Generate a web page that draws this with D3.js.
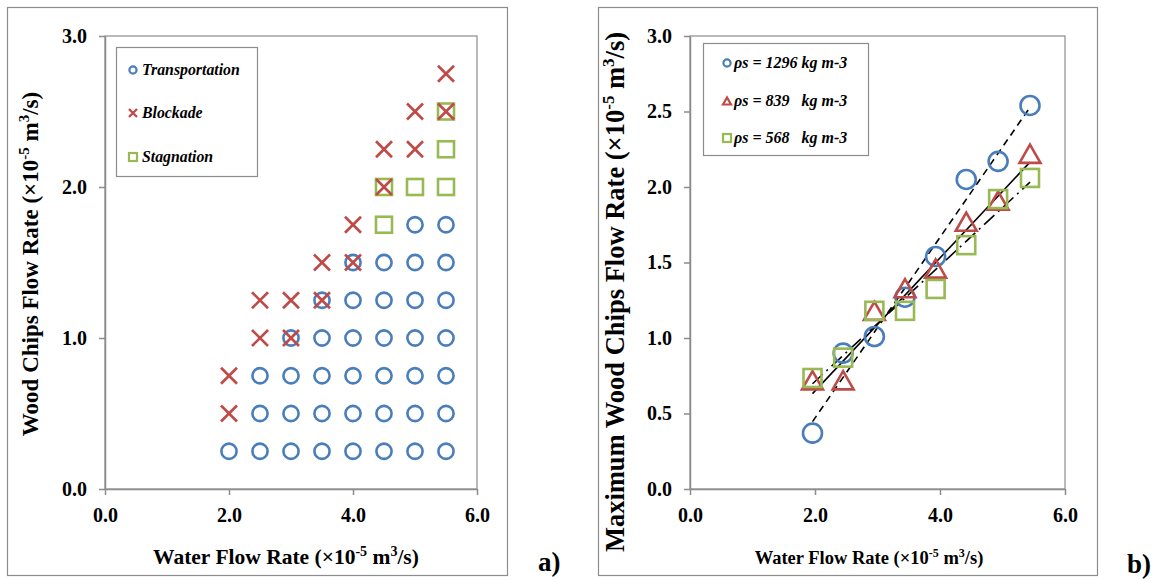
<!DOCTYPE html>
<html><head><meta charset="utf-8">
<script src="https://cdn.jsdelivr.net/npm/d3@7"></script>
<style>
body{margin:0;background:#fff;}
svg text{font-family:"Liberation Serif","Times New Roman",serif;font-weight:bold;fill:#000;}
</style></head>
<body><svg id="c" width="1161" height="580"></svg>
<script>
// ---- Panel a) data: [water flow, wood chips flow]
const transportation = [
 [2,0.25],
 [2.5,0.25],[2.5,0.5],[2.5,0.75],
 [3,0.25],[3,0.5],[3,0.75],[3,1.0],
 [3.5,0.25],[3.5,0.5],[3.5,0.75],[3.5,1.0],[3.5,1.25],
 [4,0.25],[4,0.5],[4,0.75],[4,1.0],[4,1.25],[4,1.5],
 [4.5,0.25],[4.5,0.5],[4.5,0.75],[4.5,1.0],[4.5,1.25],[4.5,1.5],
 [5,0.25],[5,0.5],[5,0.75],[5,1.0],[5,1.25],[5,1.5],[5,1.75],
 [5.5,0.25],[5.5,0.5],[5.5,0.75],[5.5,1.0],[5.5,1.25],[5.5,1.5],[5.5,1.75]
];
const blockade = [
 [2,0.5],[2,0.75],[2.5,1.0],[2.5,1.25],[3,1.0],[3,1.25],[3.5,1.25],[3.5,1.5],
 [4,1.5],[4,1.75],[4.5,2.0],[4.5,2.25],[5,2.25],[5,2.5],[5.5,2.5],[5.5,2.75]
];
const stagnation = [[4.5,1.75],[4.5,2.0],[5,2.0],[5.5,2.0],[5.5,2.25],[5.5,2.5]];
const legendA = ["Transportation","Blockade","Stagnation"];

// ---- Panel b) data
const waterRate = [1.96, 2.45, 2.95, 3.44, 3.93, 4.42, 4.93, 5.44];
const rho1296 = [0.37, 0.90, 1.01, 1.27, 1.54, 2.05, 2.17, 2.54];
const rho839  = [0.70, 0.70, 1.16, 1.31, 1.44, 1.75, 1.89, 2.20];
const rho568  = [0.735, 0.87, 1.18, 1.18, 1.325, 1.615, 1.92, 2.06];
const legendB = ["ρs = 1296 kg m-3","ρs = 839   kg m-3","ρs = 568   kg m-3"];

const xTicks = [0,2,4,6];
const yTicksA = [0,1,2,3];
const yTicksB = [0,0.5,1,1.5,2,2.5,3];

const BLUE="#4A7EBB", RED="#BE4B48", GREEN="#98B954", GRAY="#8c8c8c";
const svg = d3.select("#c");

function frame(x0,y0,x1,y1){
  svg.append("rect").attr("x",x0+0.5).attr("y",y0+0.5).attr("width",x1-x0).attr("height",y1-y0)
    .attr("fill","none").attr("stroke",GRAY).attr("stroke-width",1.2);
}
function titleText(g, main, attrs, fs){
  const t = g.append("text").attr("font-size",fs);
  Object.entries(attrs).forEach(([k,v])=>t.attr(k,v));
  const sh = Math.round(fs*0.38), ss = Math.round(fs*0.65);
  t.append("tspan").text(main+" (×10");
  t.append("tspan").attr("dy",-sh).attr("font-size",ss).text("-5");
  t.append("tspan").attr("dy",sh).text(" m");
  t.append("tspan").attr("dy",-sh).attr("font-size",ss).text("3");
  t.append("tspan").attr("dy",sh).text("/s)");
  return t;
}
function axes(x,y,yt){
  const [l,r]=x.range(), [b,t]=y.range();
  svg.append("rect").attr("x",l).attr("y",t).attr("width",r-l).attr("height",b-t)
    .attr("fill","none").attr("stroke",GRAY).attr("stroke-width",1.2);
  const gx = svg.append("g").attr("transform",`translate(0,${b})`)
    .call(d3.axisBottom(x).tickValues(xTicks).tickFormat(d3.format(".1f")).tickSize(6).tickSizeOuter(0).tickPadding(13));
  const gy = svg.append("g").attr("transform",`translate(${l},0)`)
    .call(d3.axisLeft(y).tickValues(yt).tickFormat(d3.format(".1f")).tickSize(6).tickSizeOuter(0).tickPadding(12));
  [gx,gy].forEach(g=>{
    g.attr("font-size",20);
    g.select(".domain").attr("stroke",GRAY).attr("stroke-width",1.5);
    g.selectAll(".tick line").attr("stroke",GRAY).attr("stroke-width",1.5);
    g.selectAll("text").attr("font-size",20);
  });
}

// ================= Panel a =================
frame(7,7,507,575);
const xa = d3.scaleLinear().domain([0,6]).range([105,477]);
const ya = d3.scaleLinear().domain([0,3]).range([489,36]);
axes(xa,ya,yTicksA);
svg.append("g").selectAll("circle").data(transportation).join("circle")
  .attr("cx",d=>xa(d[0])).attr("cy",d=>ya(d[1])).attr("r",7.6)
  .attr("fill","none").attr("stroke",BLUE).attr("stroke-width",2.6);
svg.append("g").selectAll("rect").data(stagnation).join("rect")
  .attr("x",d=>xa(d[0])-8).attr("y",d=>ya(d[1])-8).attr("width",16).attr("height",16)
  .attr("fill","none").attr("stroke",GREEN).attr("stroke-width",2.6);
svg.append("g").selectAll("line").data(blockade.flatMap(d=>[[d,1],[d,-1]])).join("line")
  .attr("x1",d=>xa(d[0][0])-8).attr("x2",d=>xa(d[0][0])+8)
  .attr("y1",d=>ya(d[0][1])-8*d[1]).attr("y2",d=>ya(d[0][1])+8*d[1])
  .attr("stroke",RED).attr("stroke-width",2.6);
titleText(svg,"Water Flow Rate",{x:286,y:564,"text-anchor":"middle"},21.5);
titleText(svg,"Wood Chips Flow Rate",{transform:"translate(38,264) rotate(-90)","text-anchor":"middle"},23);
// legend a
svg.append("rect").attr("x",116.5).attr("y",47.5).attr("width",141).attr("height",129)
  .attr("fill","#fff").attr("stroke",GRAY).attr("stroke-width",1.2);
const la = [70,113,157];
svg.append("circle").attr("cx",133).attr("cy",la[0]).attr("r",3.6).attr("fill","none").attr("stroke",BLUE).attr("stroke-width",2.2);
svg.append("path").attr("d","M129,109L137,117M129,117L137,109").attr("stroke",RED).attr("stroke-width",2.4);
svg.append("rect").attr("x",129).attr("y",la[2]-4).attr("width",8).attr("height",8).attr("fill","none").attr("stroke",GREEN).attr("stroke-width",2.2);
legendA.forEach((s,i)=>svg.append("text").attr("x",142).attr("y",la[i]+5).attr("font-size",15.8).attr("font-style","italic").text(s));
svg.append("text").attr("x",538).attr("y",571).attr("font-size",27).text("a)");

// ================= Panel b =================
frame(598,7,1097,575);
const xb = d3.scaleLinear().domain([0,6]).range([690,1065]);
const yb = d3.scaleLinear().domain([0,3]).range([489,36]);
axes(xb,yb,yTicksB);
function fit(xs,ys){
  const mx=d3.mean(xs), my=d3.mean(ys);
  const sxy=d3.sum(xs,(x,i)=>(x-mx)*(ys[i]-my)), sxx=d3.sum(xs,x=>(x-mx)*(x-mx));
  const m=sxy/sxx, c=my-m*mx;
  return [[xs[0],m*xs[0]+c],[xs[xs.length-1],m*xs[xs.length-1]+c]];
}
const series = [
  {ys:rho1296, dash:"7,5"},
  {ys:rho839, dash:null},
  {ys:rho568, dash:"14,5,2,5"}
];
series.forEach(s=>{
  const p = fit(waterRate,s.ys);
  svg.append("line").attr("x1",xb(p[0][0])).attr("y1",yb(p[0][1])).attr("x2",xb(p[1][0])).attr("y2",yb(p[1][1]))
    .attr("stroke","#000").attr("stroke-width",1.6).attr("stroke-dasharray",s.dash);
});
const pts = ys => waterRate.map((x,i)=>[x,ys[i]]);
svg.append("g").selectAll("circle").data(pts(rho1296)).join("circle")
  .attr("cx",d=>xb(d[0])).attr("cy",d=>yb(d[1])).attr("r",9.5)
  .attr("fill","none").attr("stroke",BLUE).attr("stroke-width",2.6);
const tri = d3.symbol().type(d3.symbolTriangle).size(190);
svg.append("g").selectAll("path").data(pts(rho839)).join("path")
  .attr("transform",d=>`translate(${xb(d[0])},${yb(d[1])})`).attr("d",tri)
  .attr("fill","none").attr("stroke",RED).attr("stroke-width",2.6);
svg.append("g").selectAll("rect").data(pts(rho568)).join("rect")
  .attr("x",d=>xb(d[0])-9).attr("y",d=>yb(d[1])-9).attr("width",18).attr("height",18)
  .attr("fill","none").attr("stroke",GREEN).attr("stroke-width",2.6);
titleText(svg,"Water Flow Rate",{x:869,y:564,"text-anchor":"middle"},18.5);
titleText(svg,"Maximum Wood Chips Flow Rate",{transform:"translate(624,292) rotate(-90)","text-anchor":"middle"},26.5);
svg.append("rect").attr("x",703.5).attr("y",43.5).attr("width",165).attr("height",112)
  .attr("fill","#fff").attr("stroke",GRAY).attr("stroke-width",1.2);
const lb=[63,101,138];
svg.append("circle").attr("cx",727).attr("cy",lb[0]).attr("r",3.6).attr("fill","none").attr("stroke",BLUE).attr("stroke-width",2.2);
svg.append("path").attr("d",`M723,${lb[1]+3.5}L727,${lb[1]-3.5}L731,${lb[1]+3.5}Z`).attr("fill","none").attr("stroke",RED).attr("stroke-width",2.2);
svg.append("rect").attr("x",723).attr("y",lb[2]-4).attr("width",8).attr("height",8).attr("fill","none").attr("stroke",GREEN).attr("stroke-width",2.2);
legendB.forEach((s,i)=>svg.append("text").attr("x",734).attr("y",lb[i]+5).attr("font-size",16).attr("font-style","italic").style("white-space","pre").text(s));
svg.append("text").attr("x",1127).attr("y",573).attr("font-size",27).text("b)");
</script></body></html>
